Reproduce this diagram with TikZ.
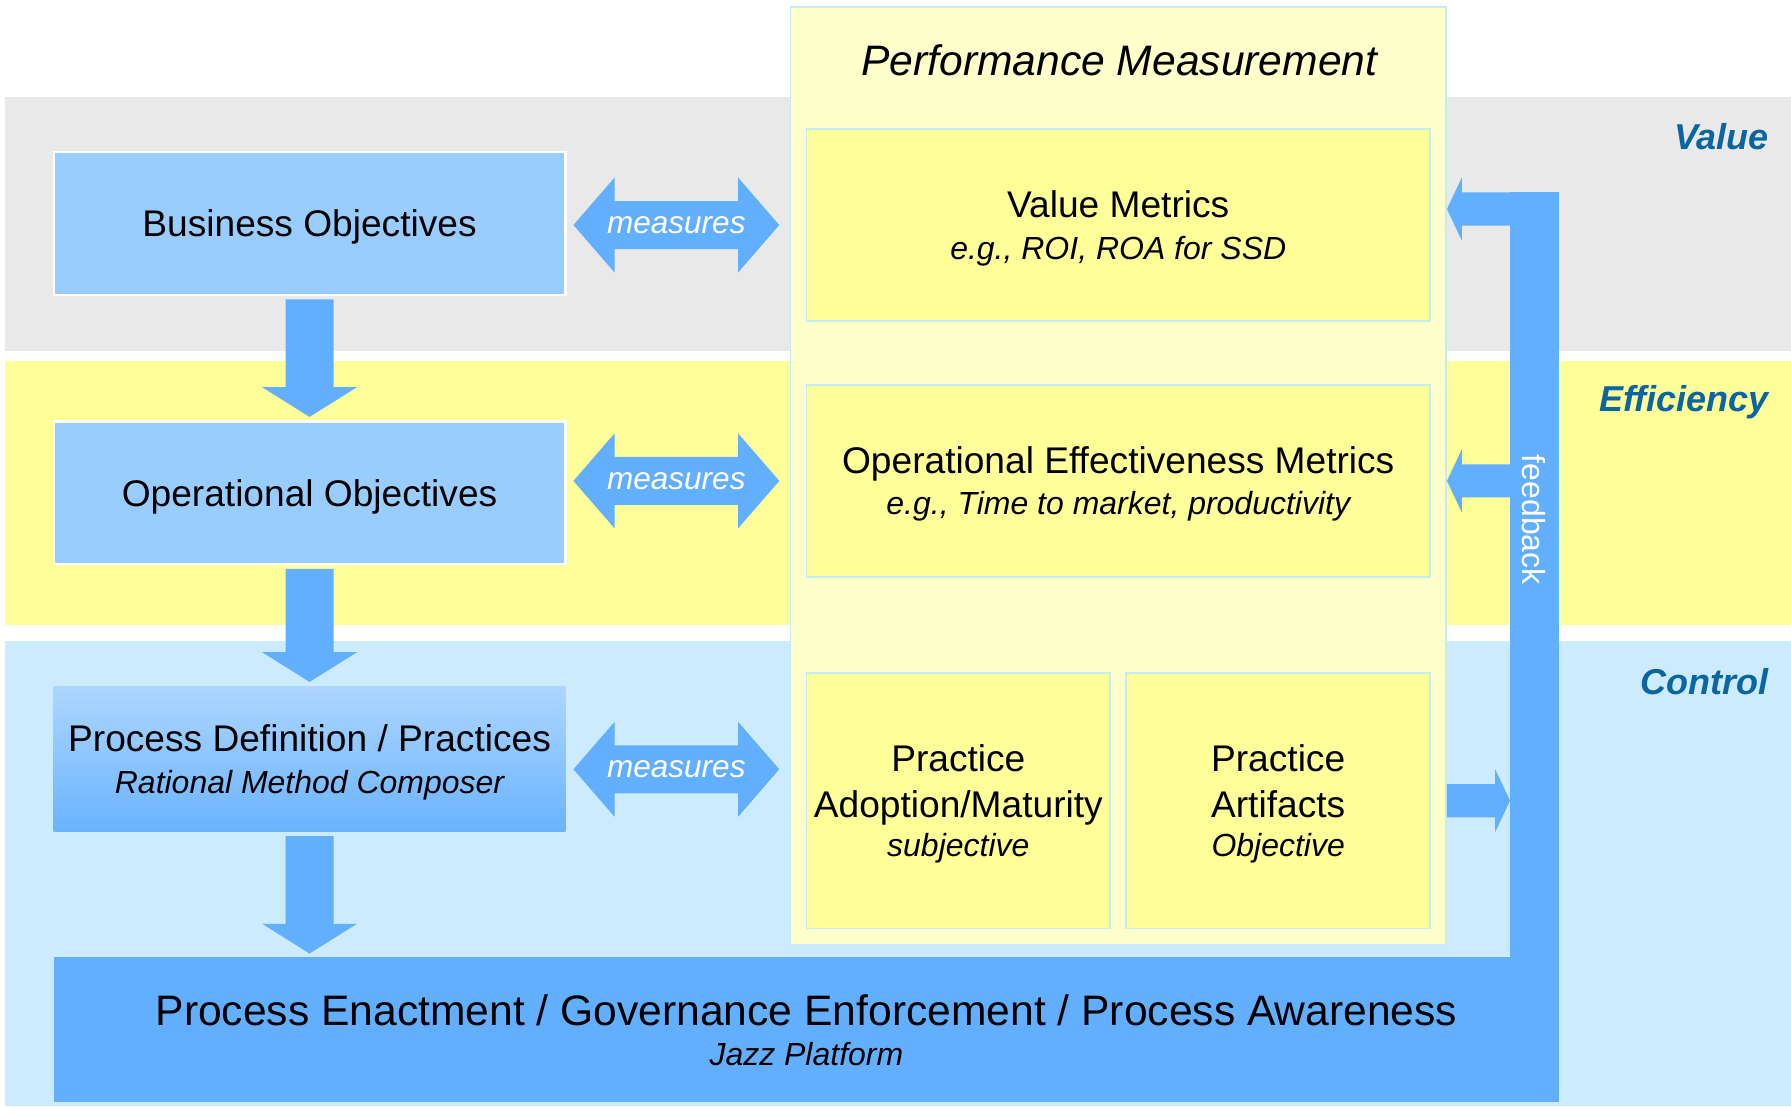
\documentclass[tikz,border=0pt]{standalone}
\usepackage{fontspec}
\setmainfont{Liberation Sans}
\usepackage{tikz}
\usetikzlibrary{calc, positioning}
\definecolor{grigioValore}{HTML}{E9E9E9}
\definecolor{gialloEff}{HTML}{FFFF99}
\definecolor{azzurroCtrl}{HTML}{CCEBFE}
\definecolor{bluBox}{HTML}{99CCFF}
\definecolor{bluFreccia}{HTML}{62AFFF}
\definecolor{gialloPerf}{HTML}{FFFFCC}
\definecolor{cianoBordo}{HTML}{C4ECF2}
\definecolor{bluTesto}{HTML}{0A65A0}
% riga in corsivo sotto il titolo
\newcommand{\sotto}{\fontsize{28}{34}\selectfont\itshape}
% freccia verso il basso tra due nodi
\newcommand{\frecciaGiu}[2]{
\fill[bluFreccia] ($(#1.south)+(-21,3)$) -- ($(#1.south)+(21,3)$) -- ($(#1.south |- #2.north)+(21,-29)$) -- ($(#1.south |- #2.north)+(41.5,-29)$) -- ($(#1.south |- #2.north)+(0,-3)$) -- ($(#1.south |- #2.north)+(-41.5,-29)$) -- ($(#1.south |- #2.north)+(-21,-29)$) -- cycle;
}
% freccia doppia "measures"
\newcommand{\frecciaDoppia}[2]{
\fill[bluFreccia] (#1) -- ($(#1)+(36,-41.5)$) -- ($(#1)+(36,-21)$) -- ($(#2)+(-36,-21)$) -- ($(#2)+(-36,-41.5)$) -- (#2) -- ($(#2)+(-36,41.5)$) -- ($(#2)+(-36,21)$) -- ($(#1)+(36,21)$) -- ($(#1)+(36,41.5)$) -- cycle;
\node[misura] at ($(#1)!0.5!(#2)$) {measures};
}
% freccia orizzontale del feedback: coda #1, punta #2
\newcommand{\frecciaOriz}[2]{
\path ($(#2)!13pt!(#1)$) coordinate (hb);
\fill[bluFreccia] ($(#1)+(0,-14.5)$) -- ($(hb)+(0,-14.5)$) -- ($(hb)+(0,-27.5)$) -- (#2) -- ($(hb)+(0,27.5)$) -- ($(hb)+(0,14.5)$) -- ($(#1)+(0,14.5)$) -- cycle;
}

\begin{document}
\begin{tikzpicture}[x=1pt, y=-1pt,
    testo/.style={font=\fontsize{32.5}{36}\selectfont, align=center, text depth=0pt},
    misura/.style={white, text depth=0pt, font=\fontsize{27.6}{30}\selectfont\itshape},
    fascia/.style={bluTesto, anchor=east, font=\fontsize{31.5}{36}\selectfont\bfseries\itshape},
    obiettivo/.style={testo, fill=bluBox, draw=white, line width=2pt, minimum width=448pt, minimum height=125pt, inner sep=0pt},
    metrica/.style={testo, fill=gialloEff, draw=cianoBordo, line width=1.5pt, minimum width=546pt, minimum height=168pt, inner sep=0pt},
    pratica/.style={metrica, minimum width=266pt, minimum height=224pt}]
    % Bordo
    \useasboundingbox (0,0) rectangle (1568,970);
    % Fasce Value, Efficiency, Control
    \fill[grigioValore] (4,85) rectangle (1568,307);
    \fill[gialloEff] (4,316) rectangle (1568,547);
    \fill[azzurroCtrl] (4,561) rectangle (1568,968);
    \node[fascia] (val) at (1552,120) {Value};
    \node[fascia] (eff) at (1552,352) {Efficiency};
    \node[fascia] (ctl) at (1552,597) {Control};
    % Performance Measurement
    \node[fill=gialloPerf, draw=cianoBordo, line width=1.5pt, minimum width=574pt, minimum height=821pt] (perf) at (979,416.5) {};
    \node[font=\fontsize{37.3}{42}\selectfont\itshape] (tit) at (980,53) {Performance Measurement};
    \node[metrica] (vm) at (979,197) {Value Metrics\\ {\sotto e.g., ROI, ROA for SSD}};
    \node[metrica] (oem) at (979,421) {Operational Effectiveness Metrics\\ {\sotto e.g., Time to market, productivity}};
    \node[pratica] (pam) at (839,701) {Practice\\[4pt] Adoption/Maturity\\[-1pt] {\sotto subjective}};
    \node[pratica] (pa) at (1119,701) {Practice\\[4pt] Artifacts\\[-1pt] {\sotto Objective}};
    % Obiettivi a sinistra
    \node[obiettivo] (bo) at (271,195.5) {Business Objectives};
    \node[obiettivo] (oo) at (271,431.5) {Operational Objectives};
    \node[obiettivo, draw=none, minimum height=127pt, top color=bluBox!80!white, bottom color=bluFreccia!95!white] (pd) at (271,664.5) {Process Definition / Practices\\ {\sotto Rational Method Composer}};
    % Process Enactment
    \node[testo, fill=bluFreccia, minimum width=1318pt, minimum height=127pt, inner sep=0pt, font=\fontsize{37.3}{35}\selectfont] (pe) at (706,901.5) {Process Enactment / Governance Enforcement / Process Awareness\\ {\sotto Jazz Platform}};
    % Frecce verso il basso
    \frecciaGiu{bo}{oo}
    \frecciaGiu{oo}{pd}
    \frecciaGiu{pd}{pe}
    % Frecce measures
    \coordinate (m1a) at ($(bo.east |- vm.west)+(6,0)$);
    \coordinate (m1b) at ($(perf.west |- vm.west)+(-9,0)$);
    \coordinate (m2a) at ($(oo.east |- oem.west)+(6,0)$);
    \coordinate (m2b) at ($(perf.west |- oem.west)+(-9,0)$);
    \coordinate (m3a) at ($(pd.east |- pam.west)+(6,-27.5)$);
    \coordinate (m3b) at ($(perf.west |- pam.west)+(-9,-27.5)$);
    \frecciaDoppia{m1a}{m1b}
    \frecciaDoppia{m2a}{m2b}
    \frecciaDoppia{m3a}{m3b}
    % Barra feedback
    \coordinate (fbtop) at (1322,168);
    \fill[bluFreccia] (fbtop) rectangle (pe.north east);
    \node[rotate=-90, white, font=\fontsize{28}{32}\selectfont] (fbt) at (1343,455) {feedback};
    \coordinate (fa) at (1322,183);
    \coordinate (fat) at (fa -| perf.east);
    \coordinate (fb) at (fbtop |- oem.east);
    \coordinate (fbt2) at (perf.east |- oem.east);
    \coordinate (fc) at (perf.east |- pa.east);
    \coordinate (fct) at (fbtop |- pa.east);
    \frecciaOriz{fa}{fat}
    \frecciaOriz{fb}{fbt2}
    \frecciaOriz{fc}{fct}
\end{tikzpicture}
\end{document}
